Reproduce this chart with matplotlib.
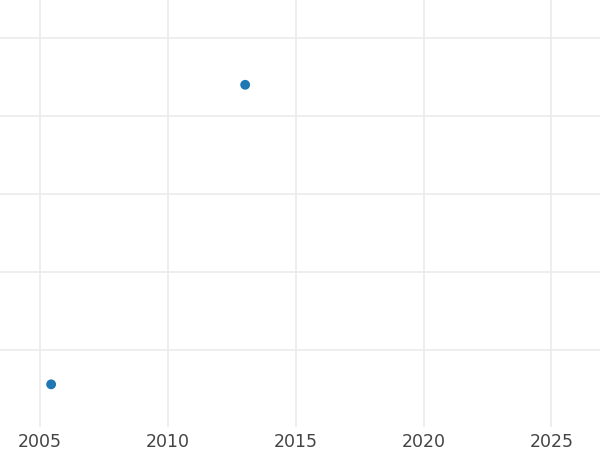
import matplotlib
matplotlib.use("Agg")
import matplotlib.pyplot as plt

years = [2005.43, 2013.02]
values = [0.56, 4.40]
xticks = [2005, 2010, 2015, 2020, 2025]
yticks = [1, 2, 3, 4, 5]

fig = plt.figure(figsize=(6, 4.5), dpi=100)
ax = fig.add_axes([0, 1 - 427 / 450, 1, 427 / 450])
ax.scatter(years, values, s=50, color="#1f77b4", zorder=3, edgecolors="none")
ax.set_xlim(2003.43, 2026.9)
ax.set_ylim(0.013, 5.487)
ax.set_xticks(xticks)
ax.set_xticklabels([str(t) for t in xticks])
ax.set_yticks(yticks)
ax.set_yticklabels([])
ax.grid(True, color="#ebebeb", linewidth=1.2)
ax.set_axisbelow(True)
for s in ax.spines.values():
    s.set_visible(False)
ax.tick_params(axis="both", length=0, labelsize=12.5, labelcolor="#444444", pad=4)
fig.savefig("out.png", dpi=100)
